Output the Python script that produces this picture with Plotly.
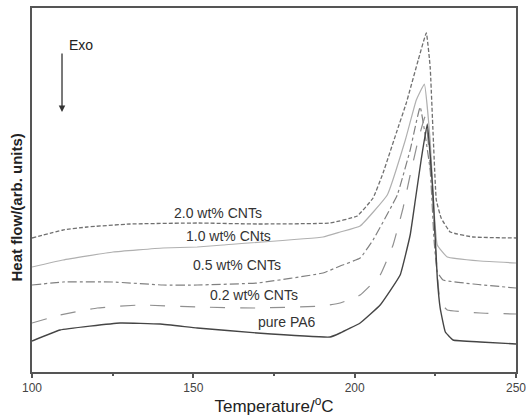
import plotly.graph_objects as go

# Temperature (°C) and heat flow (arb. units)
T_pure = [100, 108.7, 127.3, 139.7, 151.2, 169.8, 192.4, 195.5, 201.7, 207.9, 214.1, 217.2, 218.8, 220.6, 222.5,
          224.3, 225.6, 226.5, 228.1, 230.5, 238.9, 250]
H_pure = [31, 42, 49, 48, 44, 39, 35, 39, 49, 67, 97, 137, 172, 212, 248,
          177, 94, 64, 40, 32, 30, 28]

T_02 = [100, 108.7, 120.2, 133.5, 151.2, 169.8, 190.2, 195.5, 201.7, 207.9, 211.9, 215.0, 217.2, 219.7, 221.9,
        224.0, 225.3, 226.5, 228.7, 238.9, 250]
H_02 = [49, 57, 64, 67, 65, 64, 66, 69, 77, 97, 127, 164, 197, 232, 256,
        182, 112, 70, 62, 59, 58]

T_05 = [100, 109.6, 125.1, 140.6, 151.2, 169.8, 190.2, 195.5, 201.7, 205.7, 213.2, 217.2, 220.3,
        223.4, 224.6, 225.6, 227.4, 236.7, 250]
H_05 = [87, 90, 90, 87, 87, 89, 99, 106, 114, 132, 177, 222, 265,
        202, 132, 100, 92, 88, 84]

T_10 = [100, 109.6, 125.1, 140.6, 151.2, 159.2, 190.2, 195.5, 201.7, 210.1, 215.7, 219.1, 221.6,
        223.4, 224.6, 225.6, 228.7, 238.9, 250]
H_10 = [105, 112, 120, 124, 125, 127, 135, 140, 146, 177, 232, 272, 288,
        232, 162, 127, 115, 111, 109]

T_20 = [100, 109.6, 117.1, 130.4, 151.2, 169.8, 192.4, 200.8, 205.7, 208.8, 212.9, 216.0, 219.7, 222.2,
        223.4, 224.3, 225.3, 226.8, 229.6, 236.7, 250]
H_20 = [134, 142, 145, 148, 149, 148, 149, 156, 174, 199, 239, 269, 312, 339,
        305, 239, 172, 154, 140, 135, 134]

labels = ["2.0 wt% CNTs", "1.0 wt% CNts", "0.5 wt% CNTs", "0.2 wt% CNTs", "pure PA6"]
label_T = [157.5, 160.8, 163.6, 168.8, 178.9]
label_H = [159, 136, 107, 77, 50]

x_ticks = [100, 150, 200, 250]

fig = go.Figure()
series = [
    (T_20, H_20, "#707070", "4px,2px", 1.3),
    (T_10, H_10, "#b0b0b0", "solid", 1.2),
    (T_05, H_05, "#808080", "dashdot", 1.2),
    (T_02, H_02, "#909090", "longdash", 1.2),
    (T_pure, H_pure, "#454545", "solid", 1.4),
]
for (tx, hy, col, dash, w), name in zip(series, labels):
    fig.add_trace(go.Scatter(x=tx, y=hy, mode="lines", name=name,
                             line=dict(color=col, dash=dash, width=w, shape="spline", smoothing=0.3),
                             showlegend=False, hoverinfo="skip"))

for lab, tx, hy in zip(labels, label_T, label_H):
    fig.add_annotation(x=tx, y=hy, text=lab, showarrow=False, xref="x", yref="y",
                       font=dict(family="Liberation Sans, Arial", size=14, color="#333"))

# Exo arrow
fig.add_annotation(x=109.3, y=260, xref="x", yref="y", text="", showarrow=True,
                   ax=0, ay=-60, axref="pixel", ayref="pixel",
                   arrowhead=2, arrowsize=1, arrowwidth=1.3, arrowcolor="#333", standoff=0)
fig.add_annotation(x=110.7, y=327, xref="x", yref="y", text="Exo", showarrow=False, xanchor="left",
                   font=dict(family="Liberation Sans, Arial", size=14, color="#222"))

# Y title
fig.add_annotation(x=-0.034, y=(372 - 208) / 364, xref="paper", yref="paper", text="<b>Heat flow/(arb. units)</b>",
                   textangle=-90, showarrow=False, xanchor="center", yanchor="middle",
                   font=dict(family="Liberation Sans, Arial", size=15, color="#222"))

fig.update_layout(
    width=526, height=419,
    margin=dict(l=32, r=10, t=8, b=47, autoexpand=False),
    paper_bgcolor="white", plot_bgcolor="white",
    font=dict(family="Liberation Sans, Arial", color="#333"),
)
fig.update_xaxes(range=[100, 250], tickvals=x_ticks, ticktext=[str(v) for v in x_ticks],
                 automargin=False,
                 showgrid=False, zeroline=False, showline=True, linewidth=2, linecolor="#555", mirror=True,
                 ticks="outside", ticklen=4, tickwidth=1.5, tickcolor="#555", ticklabeloverflow="allow",
                 minor=dict(dtick=25, ticks="outside", ticklen=2, tickwidth=1.5, tickcolor="#555"),
                 tickfont=dict(size=12, color="#444"),
                 title=dict(text="Temperature/<sup>o</sup>C", font=dict(size=17, color="#222"), standoff=6))
fig.update_yaxes(range=[0, 364], showticklabels=False, showgrid=False, zeroline=False, automargin=False,
                 showline=True, linewidth=2, linecolor="#555", mirror=True, ticks="")

fig.write_html("out.html")
